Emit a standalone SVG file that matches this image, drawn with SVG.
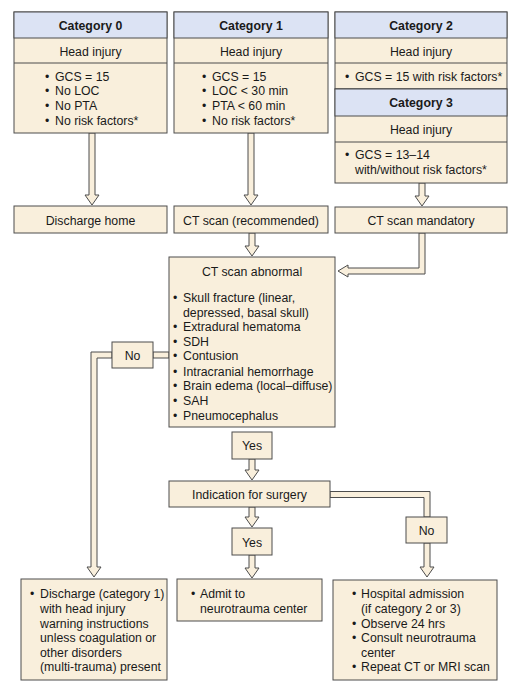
<svg xmlns="http://www.w3.org/2000/svg" width="520" height="693" viewBox="0 0 520 693">
<style>
text{font-family:"Liberation Sans",Arial,sans-serif;font-size:12.3px;fill:#1a1a1a}
.b{font-weight:bold}
.c{text-anchor:middle}
.box{fill:#f9efdc;stroke:#4d4d4d;stroke-width:1}
.hd{fill:#dce3f4;stroke:#4d4d4d;stroke-width:1}
.ln{stroke:#4d4d4d;stroke-width:1}
.ar{fill:#f9efdc;stroke:#4d4d4d;stroke-width:1;stroke-linejoin:miter}
</style>
<rect width="520" height="693" fill="#ffffff"/>
<g id="connectors">
<polygon class="ar" points="89,133 95,133 95,195 99,195 92,205 85,195 89,195"/>
<polygon class="ar" points="248,133 254,133 254,195 258,195 251,205 244,195 248,195"/>
<polygon class="ar" points="419,183 425,183 425,196 429,196 422,206 415,196 419,196"/>
<polygon class="ar" points="249,233 255,233 255,246 259,246 252,256 245,246 249,246"/>
<polygon class="ar" points="419,233 425,233 425,274 348,274 348,277 338,271 348,265 348,268 419,268"/>
<rect class="ar" x="153" y="352" width="16" height="6"/>
<polygon class="ar" points="112,352 91,352 91,567 87,567 94,577 101,567 97,567 97,358 112,358"/>
<polygon class="ar" points="249,459 255,459 255,470 259,470 252,480 245,470 249,470"/>
<polygon class="ar" points="249,507 255,507 255,517 259,517 252,527 245,517 249,517"/>
<polygon class="ar" points="249,555 255,555 255,568 259,568 252,578 245,568 249,568"/>
<polygon class="ar" points="330,491.5 430,491.5 430,517 424,517 424,497.5 330,497.5"/>
<polygon class="ar" points="424,543 430,543 430,567 434,567 427,577 420,567 424,567"/>
</g>
<g id="category0">
<rect class="box" x="14" y="12" width="153" height="121"/>
<rect class="hd" x="14" y="12" width="153" height="26"/>
<line class="ln" x1="14" y1="63" x2="167" y2="63"/>
<text class="b c" x="90.5" y="29.5">Category 0</text>
<text class="c" x="90.5" y="55.5">Head injury</text>
<text x="45" y="80.5">•</text><text x="55" y="80.5">GCS = 15</text>
<text x="45" y="95">•</text><text x="55" y="95">No LOC</text>
<text x="45" y="110">•</text><text x="55" y="110">No PTA</text>
<text x="45" y="125">•</text><text x="55" y="125">No risk factors*</text>
</g>
<g id="category1">
<rect class="box" x="174" y="12" width="154" height="121"/>
<rect class="hd" x="174" y="12" width="154" height="26"/>
<line class="ln" x1="174" y1="63" x2="328" y2="63"/>
<text class="b c" x="251" y="29.5">Category 1</text>
<text class="c" x="251" y="55.5">Head injury</text>
<text x="202" y="80.5">•</text><text x="212" y="80.5">GCS = 15</text>
<text x="202" y="95">•</text><text x="212" y="95">LOC &lt; 30 min</text>
<text x="202" y="110">•</text><text x="212" y="110">PTA &lt; 60 min</text>
<text x="202" y="125">•</text><text x="212" y="125">No risk factors*</text>
</g>
<g id="category2">
<rect class="box" x="335" y="12" width="172" height="77"/>
<rect class="hd" x="335" y="12" width="172" height="26"/>
<line class="ln" x1="335" y1="63" x2="507" y2="63"/>
<text class="b c" x="421" y="29.5">Category 2</text>
<text class="c" x="421" y="55.5">Head injury</text>
<text x="345" y="80.5">•</text><text x="355" y="80.5">GCS = 15 with risk factors*</text>
</g>
<g id="category3">
<rect class="box" x="335" y="89" width="172" height="94"/>
<rect class="hd" x="335" y="89" width="172" height="27"/>
<line class="ln" x1="335" y1="142" x2="507" y2="142"/>
<text class="b c" x="421" y="107">Category 3</text>
<text class="c" x="421" y="133.5">Head injury</text>
<text x="345" y="159">•</text><text x="355" y="159">GCS = 13–14</text>
<text x="355" y="173.5">with/without risk factors*</text>
</g>
<g id="discharge-home">
<rect class="box" x="14" y="206" width="153" height="27"/>
<text class="c" x="90.5" y="224.5">Discharge home</text>
</g>
<g id="ct-recommended">
<rect class="box" x="174" y="206" width="154" height="27"/>
<text class="c" x="251" y="224.5">CT scan (recommended)</text>
</g>
<g id="ct-mandatory">
<rect class="box" x="335" y="207" width="172" height="26"/>
<text class="c" x="421" y="224.5">CT scan mandatory</text>
</g>
<g id="ct-abnormal">
<rect class="box" x="169" y="257" width="166" height="170"/>
<text class="c" x="252" y="275.5">CT scan abnormal</text>
<text x="173" y="302">•</text><text x="183" y="302">Skull fracture (linear,</text>
<text x="183" y="317">depressed, basal skull)</text>
<text x="173" y="331">•</text><text x="183" y="331">Extradural hematoma</text>
<text x="173" y="345.5">•</text><text x="183" y="345.5">SDH</text>
<text x="173" y="360">•</text><text x="183" y="360">Contusion</text>
<text x="173" y="375.5">•</text><text x="183" y="375.5">Intracranial hemorrhage</text>
<text x="173" y="390">•</text><text x="183" y="390">Brain edema (local–diffuse)</text>
<text x="173" y="405">•</text><text x="183" y="405">SAH</text>
<text x="173" y="419.5">•</text><text x="183" y="419.5">Pneumocephalus</text>
</g>
<g id="no-left">
<rect class="box" x="112" y="342" width="41" height="26"/>
<text class="c" x="132.5" y="359.5">No</text>
</g>
<g id="yes-upper">
<rect class="box" x="232" y="432" width="40" height="27"/>
<text class="c" x="252" y="450">Yes</text>
</g>
<g id="indication-surgery">
<rect class="box" x="169" y="481" width="161" height="26"/>
<text class="c" x="249.5" y="498.5">Indication for surgery</text>
</g>
<g id="yes-lower">
<rect class="box" x="232" y="528" width="40" height="27"/>
<text class="c" x="252" y="546.5">Yes</text>
</g>
<g id="no-right">
<rect class="box" x="406" y="517" width="41" height="26"/>
<text class="c" x="426.5" y="535">No</text>
</g>
<g id="discharge-cat1">
<rect class="box" x="21" y="579" width="146" height="101"/>
<text x="30" y="598">•</text><text x="40" y="598">Discharge (category 1)</text>
<text x="40" y="612.5">with head injury</text>
<text x="40" y="627.5">warning instructions</text>
<text x="40" y="642">unless coagulation or</text>
<text x="40" y="656.5">other disorders</text>
<text x="40" y="671">(multi-trauma) present</text>
</g>
<g id="admit-neurotrauma">
<rect class="box" x="177" y="579" width="145" height="42"/>
<text x="191" y="598">•</text><text x="200" y="598">Admit to</text>
<text x="200" y="612.5">neurotrauma center</text>
</g>
<g id="hospital-admission">
<rect class="box" x="333" y="580" width="164" height="100"/>
<text x="352" y="598">•</text><text x="361" y="598">Hospital admission</text>
<text x="361" y="612.5">(if category 2 or 3)</text>
<text x="352" y="627.5">•</text><text x="361" y="627.5">Observe 24 hrs</text>
<text x="352" y="642">•</text><text x="361" y="642">Consult neurotrauma</text>
<text x="361" y="656.5">center</text>
<text x="352" y="671">•</text><text x="361" y="671">Repeat CT or MRI scan</text>
</g>
</svg>
